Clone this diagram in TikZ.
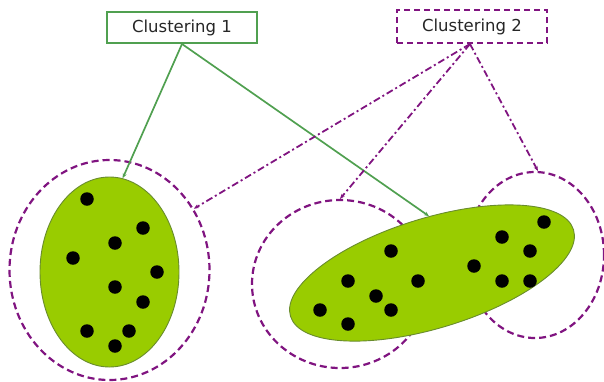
\documentclass[tikz,border=0pt]{standalone}
\usepackage{fontspec}
\newfontfamily\labfont{DejaVu Sans}
\usetikzlibrary{shapes.geometric,arrows.meta}
\definecolor{lgreen}{RGB}{153,204,0}
\definecolor{ledge}{RGB}{105,140,45}
\definecolor{lineg}{RGB}{80,160,80}
\definecolor{purp}{RGB}{128,20,128}
\tikzset{
  clbox/.style={draw=lineg,line width=2pt,minimum width=150pt,minimum height=31pt,inner sep=0pt,font=\labfont\fontsize{16.5}{18}\selectfont,text=black!85},
  clboxd/.style={draw=purp,line width=2pt,dash pattern=on 6pt off 4pt,minimum width=150pt,minimum height=33pt,inner sep=0pt,font=\labfont\fontsize{16.5}{18}\selectfont,text=black!85},
  blob/.style={ellipse,draw=ledge,line width=0.9pt,fill=lgreen,inner sep=0pt},
  ring/.style={ellipse,draw=purp,line width=2.2pt,dash pattern=on 7pt off 4pt,inner sep=0pt},
  dot/.style={circle,fill=black,inner sep=0pt,minimum size=13.5pt},
  gline/.style={draw=lineg,line width=1.7pt,-{Stealth[length=5pt,width=4pt]}},
  pline/.style={draw=purp,line width=1.8pt,dash pattern=on 7pt off 3pt on 2pt off 3pt,-{Stealth[length=5pt,width=4pt]}}
}
\begin{document}
\begin{tikzpicture}[x=1pt,y=-1pt]
\useasboundingbox (0,0) rectangle (604,381);
% rings
\node[ring,minimum width=200pt,minimum height=220pt] (rL) at (109.5,270) {};
\node[ring,minimum width=176pt,minimum height=168pt] (rM) at (340,284) {};
\node[ring,minimum width=138pt,minimum height=166pt] (rR) at (535,255) {};
% blobs
\node[blob,minimum width=139pt,minimum height=190pt] (bL) at (109.5,272) {};
\node[blob,rotate=17,minimum width=296pt,minimum height=110pt] (bR) at (432,273) {};
% dots left
\foreach \x/\y [count=\i] in {87/199,143/228,115/243,73/258,157/272,115/287,143/302,87/331,129/331,115/346}
  \node[dot] (dl\i) at (\x,\y) {};
% dots right
\foreach \x/\y [count=\i] in {391/251,348/281,418/281,376/296,320/310,391/310,348/324,474/266,502/237,544/222,530/251,502/281,530/281}
  \node[dot] (dr\i) at (\x,\y) {};
% boxes
\node[clbox] (c1) at (182,27.5) {Clustering 1};
\node[clboxd] (c2) at (472,26.5) {Clustering 2};
% connectors
\draw[gline] (c1.south) -- (bL.82);
\draw[gline] (c1.south) -- (bR.76);
\draw[pline] ([xshift=-2pt]c2.south) -- (rL.36);
\draw[pline] ([xshift=-2pt]c2.south) -- (rM.north);
\draw[pline] ([xshift=-2pt]c2.south) -- (rR.88);
\end{tikzpicture}
\end{document}
